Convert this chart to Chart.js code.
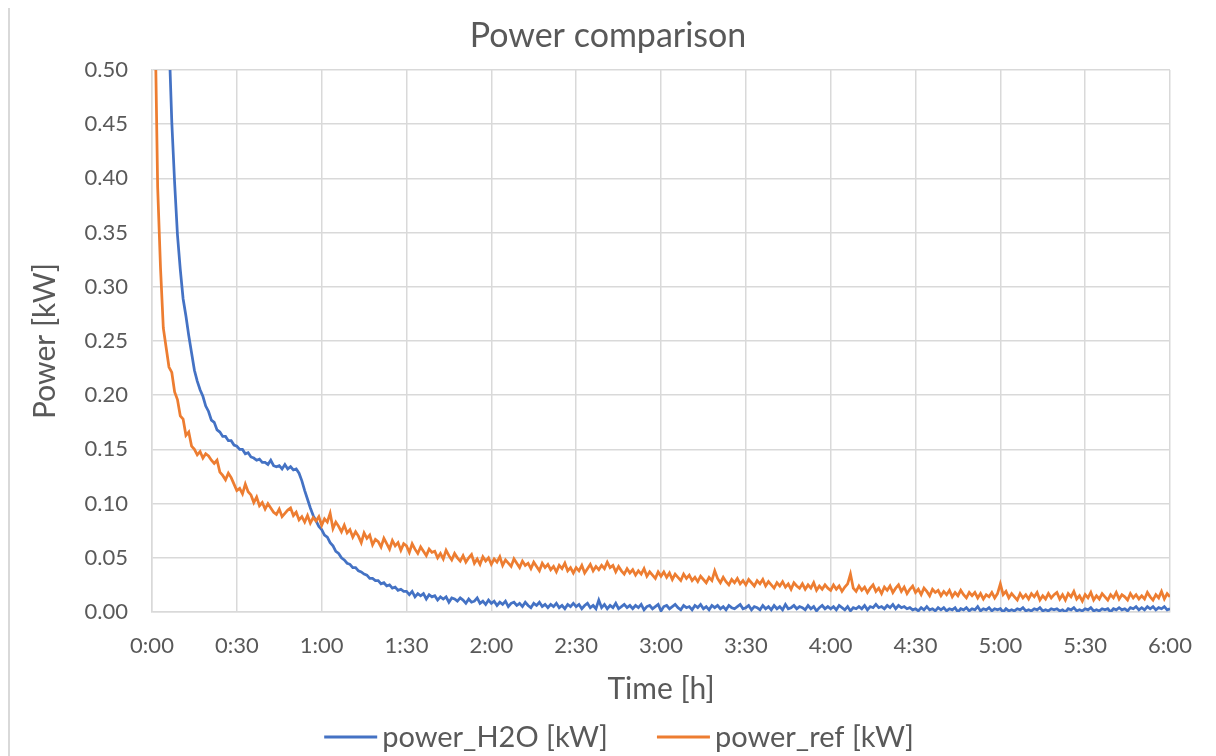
<!DOCTYPE html>
<html>
<head>
<meta charset="utf-8">
<title>Power comparison</title>
<script src="https://cdn.jsdelivr.net/npm/chart.js@4/dist/chart.umd.min.js"></script>
<style>
  html, body { margin: 0; padding: 0; background: #ffffff; }
  #wrap { width: 1216px; height: 756px; position: relative; }
</style>
</head>
<body>
<div id="wrap"><canvas id="chart" width="1216" height="756"></canvas></div>
<script>
// one sample per minute, starting at 0:00
const SAMPLE_MIN = 1;

const seriesLabels = ['power_H2O [kW]', 'power_ref [kW]'];

const timeTicks = ['0:00', '0:30', '1:00', '1:30', '2:00', '2:30', '3:00',
                   '3:30', '4:00', '4:30', '5:00', '5:30', '6:00'];

const powerTicks = [0, 0.05, 0.10, 0.15, 0.20, 0.25, 0.30, 0.35, 0.40, 0.45, 0.50];

const powerH2O = [
  1.600, 1.400, 1.200, 1.000, 0.820, 0.660, 0.530, 0.452, 0.396, 0.348,
  0.316, 0.289, 0.273, 0.255, 0.239, 0.223, 0.213, 0.205, 0.199, 0.190,
  0.185, 0.177, 0.175, 0.168, 0.166, 0.162, 0.162, 0.158, 0.158, 0.154,
  0.153, 0.150, 0.150, 0.146, 0.147, 0.143, 0.142, 0.140, 0.141, 0.138,
  0.138, 0.136, 0.140, 0.135, 0.134, 0.135, 0.132, 0.136, 0.132, 0.134,
  0.131, 0.132, 0.128, 0.121, 0.112, 0.104, 0.096, 0.089, 0.084, 0.079,
  0.076, 0.071, 0.069, 0.064, 0.061, 0.056, 0.054, 0.050, 0.048, 0.045,
  0.044, 0.041, 0.041, 0.038, 0.037, 0.035, 0.034, 0.031, 0.031, 0.029,
  0.029, 0.026, 0.027, 0.024, 0.025, 0.022, 0.023, 0.020, 0.021, 0.019,
  0.019, 0.016, 0.019, 0.014, 0.017, 0.015, 0.017, 0.012, 0.016, 0.014,
  0.015, 0.011, 0.014, 0.012, 0.014, 0.009, 0.013, 0.012, 0.010, 0.013,
  0.011, 0.008, 0.012, 0.009, 0.010, 0.013, 0.008, 0.010, 0.007, 0.011,
  0.008, 0.010, 0.006, 0.009, 0.007, 0.010, 0.005, 0.008, 0.009, 0.006,
  0.008, 0.005, 0.009, 0.006, 0.004, 0.008, 0.006, 0.009, 0.005, 0.007,
  0.004, 0.007, 0.005, 0.008, 0.004, 0.006, 0.003, 0.007, 0.005, 0.008,
  0.005, 0.007, 0.003, 0.006, 0.008, 0.004, 0.006, 0.003, 0.011, 0.004,
  0.007, 0.003, 0.006, 0.004, 0.008, 0.003, 0.005, 0.007, 0.004, 0.006,
  0.003, 0.006, 0.004, 0.007, 0.002, 0.005, 0.006, 0.003, 0.005, 0.007,
  0.001, 0.005, 0.006, 0.003, 0.005, 0.007, 0.004, 0.002, 0.006, 0.004,
  0.005, 0.002, 0.006, 0.004, 0.007, 0.003, 0.005, 0.002, 0.006, 0.004,
  0.006, 0.003, 0.005, 0.002, 0.006, 0.004, 0.003, 0.005, 0.007, 0.003,
  0.004, 0.006, 0.002, 0.005, 0.004, 0.002, 0.006, 0.003, 0.005, 0.002,
  0.006, 0.003, 0.005, 0.002, 0.007, 0.003, 0.004, 0.006, 0.003, 0.005,
  0.004, 0.002, 0.006, 0.003, 0.005, 0.001, 0.004, 0.006, 0.003, 0.005,
  0.003, 0.005, 0.002, 0.006, 0.004, 0.002, 0.005, 0.001, 0.004, 0.003,
  0.005, 0.003, 0.006, 0.002, 0.005, 0.004, 0.007, 0.004, 0.005, 0.003,
  0.006, 0.004, 0.007, 0.003, 0.006, 0.004, 0.005, 0.003, 0.004, 0.002,
  0.003, 0.001, 0.004, 0.002, 0.005, 0.002, 0.003, 0.001, 0.004, 0.002,
  0.004, 0.001, 0.003, 0.002, 0.004, 0.000, 0.003, 0.002, 0.004, 0.001,
  0.003, 0.002, 0.005, 0.001, 0.003, 0.002, 0.004, 0.001, 0.003, 0.002,
  0.003, 0.000, 0.003, 0.001, 0.002, 0.001, 0.003, 0.002, 0.004, 0.001,
  0.002, 0.001, 0.003, 0.002, 0.004, 0.001, 0.002, 0.001, 0.003, 0.002,
  0.003, 0.001, 0.002, 0.000, 0.003, 0.002, 0.004, 0.001, 0.002, 0.001,
  0.003, 0.002, 0.004, 0.001, 0.002, 0.001, 0.003, 0.002, 0.003, 0.000,
  0.003, 0.002, 0.004, 0.002, 0.003, 0.001, 0.004, 0.003, 0.005, 0.002,
  0.004, 0.002, 0.005, 0.003, 0.005, 0.002, 0.004, 0.003, 0.005, 0.002,
  0.003
];

const powerRef = [
  0.900, 0.560, 0.392, 0.318, 0.262, 0.244, 0.226, 0.221, 0.203, 0.196,
  0.181, 0.178, 0.163, 0.166, 0.153, 0.150, 0.145, 0.148, 0.142, 0.146,
  0.144, 0.140, 0.137, 0.140, 0.129, 0.126, 0.122, 0.128, 0.124, 0.118,
  0.112, 0.114, 0.109, 0.118, 0.111, 0.108, 0.101, 0.106, 0.098, 0.101,
  0.095, 0.100, 0.096, 0.092, 0.090, 0.095, 0.088, 0.091, 0.094, 0.096,
  0.089, 0.092, 0.085, 0.088, 0.083, 0.089, 0.082, 0.087, 0.084, 0.088,
  0.080, 0.086, 0.083, 0.091, 0.077, 0.083, 0.079, 0.074, 0.080, 0.073,
  0.076, 0.069, 0.074, 0.070, 0.064, 0.073, 0.068, 0.071, 0.062, 0.067,
  0.065, 0.060, 0.068, 0.063, 0.058, 0.066, 0.061, 0.064, 0.057, 0.063,
  0.061, 0.055, 0.063, 0.058, 0.054, 0.060, 0.056, 0.052, 0.058, 0.055,
  0.056, 0.050, 0.054, 0.049, 0.057, 0.052, 0.048, 0.054, 0.050, 0.047,
  0.052, 0.046, 0.050, 0.053, 0.045, 0.049, 0.044, 0.051, 0.047, 0.050,
  0.044, 0.049, 0.046, 0.051, 0.043, 0.048, 0.045, 0.042, 0.049, 0.045,
  0.041, 0.047, 0.043, 0.045, 0.040, 0.046, 0.042, 0.038, 0.045, 0.041,
  0.044, 0.039, 0.042, 0.037, 0.043, 0.040, 0.045, 0.038, 0.041, 0.036,
  0.041, 0.038, 0.043, 0.036, 0.040, 0.044, 0.038, 0.042, 0.039, 0.043,
  0.040, 0.046, 0.041, 0.043, 0.037, 0.042, 0.038, 0.035, 0.040, 0.036,
  0.039, 0.034, 0.038, 0.035, 0.040, 0.033, 0.037, 0.034, 0.031, 0.037,
  0.033, 0.037, 0.032, 0.036, 0.030, 0.035, 0.032, 0.029, 0.035, 0.031,
  0.034, 0.029, 0.032, 0.028, 0.033, 0.030, 0.027, 0.032, 0.029, 0.038,
  0.031, 0.027, 0.032, 0.028, 0.025, 0.030, 0.027, 0.031, 0.026, 0.029,
  0.025, 0.030, 0.027, 0.024, 0.029, 0.026, 0.030, 0.024, 0.028, 0.025,
  0.022, 0.027, 0.024, 0.028, 0.023, 0.026, 0.021, 0.027, 0.024, 0.022,
  0.026, 0.021, 0.025, 0.022, 0.027, 0.020, 0.024, 0.021, 0.025, 0.022,
  0.020, 0.025, 0.021, 0.024, 0.019, 0.023, 0.026, 0.035, 0.022, 0.019,
  0.024, 0.020, 0.023, 0.018, 0.022, 0.025, 0.019, 0.022, 0.017, 0.023,
  0.020, 0.024, 0.018, 0.022, 0.025, 0.019, 0.023, 0.017, 0.021, 0.024,
  0.018, 0.021, 0.016, 0.022, 0.019, 0.015, 0.021, 0.018, 0.020, 0.015,
  0.019, 0.016, 0.020, 0.014, 0.018, 0.015, 0.020, 0.016, 0.013, 0.018,
  0.015, 0.018, 0.013, 0.017, 0.012, 0.016, 0.014, 0.018, 0.013, 0.017,
  0.026, 0.016, 0.019, 0.013, 0.017, 0.014, 0.011, 0.017, 0.013, 0.016,
  0.012, 0.017, 0.014, 0.018, 0.011, 0.015, 0.012, 0.017, 0.013, 0.016,
  0.018, 0.012, 0.016, 0.011, 0.017, 0.014, 0.019, 0.012, 0.015, 0.010,
  0.016, 0.013, 0.018, 0.011, 0.015, 0.012, 0.017, 0.014, 0.011, 0.016,
  0.013, 0.018, 0.012, 0.016, 0.014, 0.011, 0.017, 0.013, 0.016, 0.012,
  0.015, 0.012, 0.018, 0.014, 0.011, 0.016, 0.013, 0.019, 0.012, 0.017,
  0.014
];

const BLUE = '#4472C4';
const ORANGE = '#ED7D31';
const TEXT = '#595959';
const GRID = '#D9D9D9';
const FONT = 'Lato, "Open Sans", sans-serif';

function toPoints(values) {
  return values.map((v, i) => ({ x: i * SAMPLE_MIN, y: v }));
}

// thin frame line down the left side and a centred line legend underneath
const frameAndLegend = {
  id: 'frameAndLegend',
  beforeDraw(chart) {
    const ctx = chart.ctx;
    ctx.save();
    ctx.fillStyle = '#ffffff';
    ctx.fillRect(0, 0, chart.width, chart.height);
    ctx.strokeStyle = GRID;
    ctx.lineWidth = 2;
    ctx.beginPath();
    ctx.moveTo(9, 8);
    ctx.lineTo(9, chart.height);
    ctx.stroke();
    ctx.restore();
  },
  afterDraw(chart) {
    const ctx = chart.ctx;
    const lineLen = 53, textGap = 5, itemGap = 49;
    const centerX = 619, centerY = 737;
    ctx.save();
    ctx.font = '29px ' + FONT;
    ctx.textBaseline = 'middle';
    const items = chart.data.datasets.map(ds => ({
      text: ds.label,
      color: ds.borderColor,
      w: lineLen + textGap + ctx.measureText(ds.label).width
    }));
    const total = items.reduce((s, it) => s + it.w, 0) + itemGap * (items.length - 1);
    let x = centerX - total / 2;
    items.forEach(it => {
      ctx.strokeStyle = it.color;
      ctx.lineWidth = 3;
      ctx.beginPath();
      ctx.moveTo(x, centerY);
      ctx.lineTo(x + lineLen, centerY);
      ctx.stroke();
      ctx.fillStyle = TEXT;
      ctx.fillText(it.text, x + lineLen + textGap, centerY + 1);
      x += it.w + itemGap;
    });
    ctx.restore();
  }
};

new Chart(document.getElementById('chart'), {
  type: 'line',
  data: {
    datasets: [
      {
        label: seriesLabels[0],
        data: toPoints(powerH2O),
        borderColor: BLUE,
        borderWidth: 2.75,
        pointRadius: 0,
        tension: 0,
        order: 1
      },
      {
        label: seriesLabels[1],
        data: toPoints(powerRef),
        borderColor: ORANGE,
        borderWidth: 2.75,
        pointRadius: 0,
        tension: 0,
        order: 0
      }
    ]
  },
  options: {
    responsive: false,
    animation: false,
    devicePixelRatio: 1,
    layout: { padding: { top: 0, right: 0, bottom: 41, left: 0 } },
    plugins: {
      legend: { display: false },
      tooltip: { enabled: false },
      title: {
        display: true,
        text: 'Power comparison',
        color: TEXT,
        font: { family: FONT, size: 34, weight: 'normal', lineHeight: 1.2 },
        padding: { top: 15.6, bottom: 13.6 }
      }
    },
    scales: {
      x: {
        type: 'linear',
        min: 0,
        max: 360,
        afterFit(scale) { scale.height = 103; },
        afterBuildTicks(scale) {
          scale.ticks = timeTicks.map((_, i) => ({ value: i * 30 }));
        },
        ticks: {
          color: TEXT,
          font: { family: FONT, size: 22, lineHeight: 1.2 },
          padding: 21,
          maxRotation: 0,
          autoSkip: false,
          callback: (v, i) => timeTicks[i]
        },
        grid: { color: GRID, lineWidth: 1.5, drawTicks: false },
        border: { color: GRID, width: 1.5 },
        title: {
          display: true,
          text: 'Time [h]',
          color: TEXT,
          font: { family: FONT, size: 30, lineHeight: 1.2 },
          padding: { top: 0, bottom: 8 }
        }
      },
      y: {
        min: 0,
        max: 0.5,
        afterFit(scale) { scale.width = 152; },
        afterBuildTicks(scale) {
          scale.ticks = powerTicks.map(v => ({ value: v }));
        },
        ticks: {
          color: TEXT,
          font: { family: FONT, size: 22, lineHeight: 1.2 },
          padding: 24,
          callback: v => v.toFixed(2)
        },
        grid: { color: GRID, lineWidth: 1.5, drawTicks: false },
        border: { color: GRID, width: 1.5 },
        title: {
          display: true,
          text: 'Power [kW]',
          color: TEXT,
          font: { family: FONT, size: 30, lineHeight: 1.2 },
          padding: { top: 27, bottom: 0 }
        }
      },
      // empty strip on the right so the last time label has room
      yRight: {
        position: 'right',
        min: 0,
        max: 0.5,
        afterFit(scale) { scale.width = 46; },
        ticks: { display: false },
        grid: { display: false, drawTicks: false },
        border: { display: false }
      }
    }
  },
  plugins: [frameAndLegend]
});
</script>
</body>
</html>
